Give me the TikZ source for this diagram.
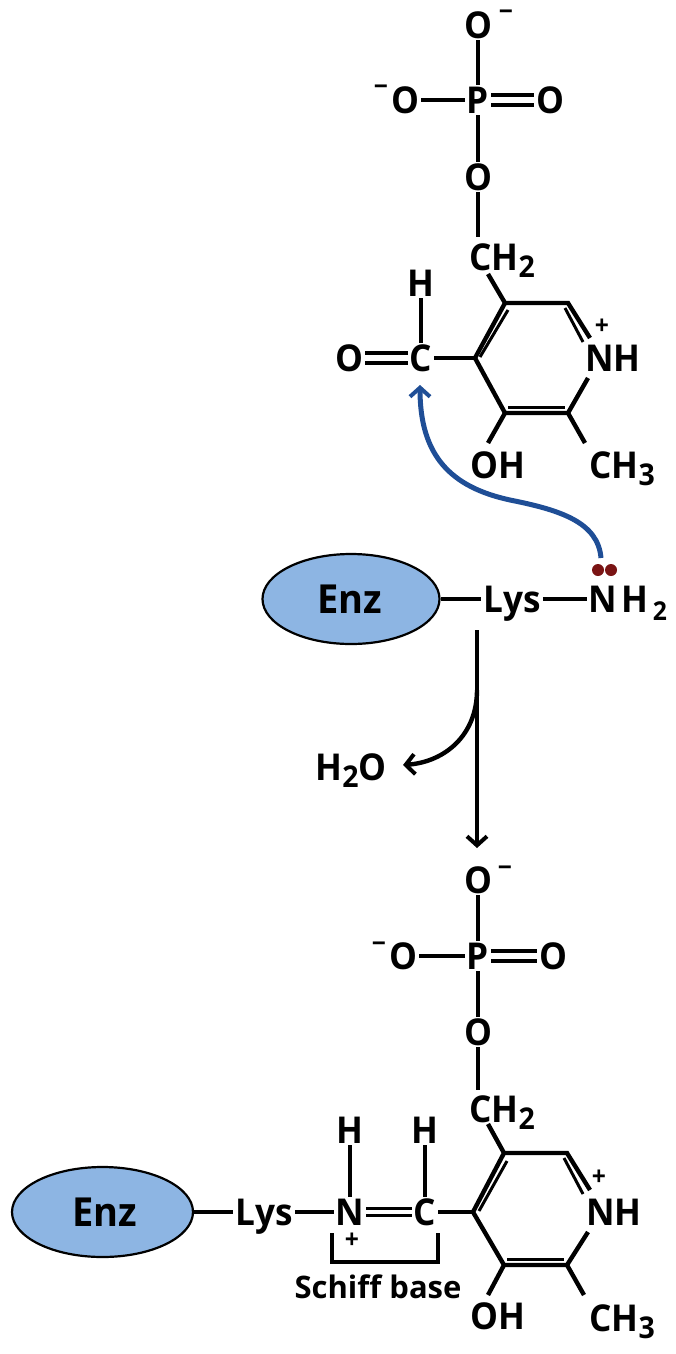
\documentclass[tikz,border=0pt]{standalone}
\usepackage{fontspec}
\setmainfont{Open Sans}[BoldFeatures={FakeStretch=0.95}]
\newfontfamily\tagfont{Open Sans}
\usetikzlibrary{shapes.geometric,positioning,arrows.meta}
\definecolor{enzblue}{HTML}{8DB5E3}
\definecolor{attackblue}{HTML}{1F4E96}
\definecolor{pairred}{HTML}{7A1414}
\newcommand{\lowered}[1]{\raisebox{-7pt}{\fontsize{30}{30}\selectfont #1}}
\tikzset{
	atom/.style={font=\fontsize{37}{37}\selectfont\bfseries, inner sep=2pt, 
		text height=26pt, text depth=0pt},
	enzname/.style={font=\fontsize{40}{40}\selectfont\bfseries, inner sep=2pt},
	small/.style={font=\fontsize{26}{26}\selectfont\bfseries, inner sep=0pt},
	tag/.style={font=\tagfont\fontsize{31}{31}\selectfont\bfseries, inner sep=1pt},
	enzyme/.style={ellipse, draw=black, line width=2.2pt, fill=enzblue, 
		minimum width=177pt, minimum height=90pt, inner sep=0pt},
	bond/.style={line width=4.4pt},
	dbond/.style={line width=3.8pt, double, double distance=6pt},
	inner/.style={line width=3pt},
	pair/.style={circle, fill=pairred, minimum size=12pt, inner sep=0pt},
	rxn/.style={line width=4.4pt, -{Straight Barb[length=9pt,width=20pt,line width=4pt]}}
}
\begin{document}
\begin{tikzpicture}[x=1pt,y=-1pt]
	\useasboundingbox (0,0) rectangle (676,1354);
	
	% aldehyde form
	\node[atom] (o1) at (478,25) {O};
	\node[small] (m1) at (506,15) {−};
	\node[atom] (p1) at (478,100) {P};
	\node[atom] (o2) at (405,100) {O};
	\node[small] (m2) at (381,90) {−};
	\node[atom] (o3) at (550,100) {O};
	\node[atom] (o4) at (478,177) {O};
	\node[atom] (ch2a) at (502,257) {CH\lowered{2}};
	\node[atom] (ha) at (421,283) {H};
	\node[atom] (ca) at (421,358) {C};
	\node[atom] (o5) at (349,358) {O};
	\node[atom] (nha) at (613,358) {NH};
	\node[small] (pa) at (602,327) {+};
	\node[atom] (oha) at (498,465) {OH};
	\node[atom] (ch3a) at (622,465) {CH\lowered{3}};
	\coordinate (c4a) at (475,358);
	\coordinate (c5a) at (505,303);
	\coordinate (c6a) at (568,303);
	\coordinate (c2a) at (568,413);
	\coordinate (c3a) at (505,413);
	\coordinate (n1a) at (590,338);
	\coordinate (n2a) at (588,378);
	\coordinate (c2ae) at (585,443);
	\coordinate (c3ae) at (488,443);
	\coordinate (c5ae) at (488,274);
	\coordinate (o4ae) at (478,237);
	
	\draw[bond] (o1) -- (p1);
	\draw[bond] (o2) -- (p1);
	\draw[dbond] (p1) -- (o3);
	\draw[bond] (p1) -- (o4);
	\draw[bond] (o4) -- (o4ae);
	\draw[bond] (c5ae) -- (c5a) -- (c4a) -- (c3a) -- (c2a) -- (n2a);
	\draw[bond] (c5a) -- (c6a) -- (n1a);
	\draw[bond] (c3a) -- (c3ae);
	\draw[bond] (c2a) -- (c2ae);
	\draw[bond] (ca) -- (c4a);
	\draw[bond] (ca) -- (ha);
	\draw[dbond] (o5) -- (ca);
	\draw[inner] (480,357) -- (508,310);
	\draw[inner] (565,308) -- (583,342);
	\draw[inner] (508,407) -- (565,407);
	
	% enzyme with lysine
	\node[enzyme] (enz1) at (351,599) {};
	\node[enzname] (enzt1) at (350,599) {Enz};
	\node[atom] (lys1) at (512,599) {Lys};
	\node[atom] (n1) at (603,599) {N};
	\node[atom] (h1) at (635,599) {H};
	\node[small] (two1) at (660,611) {2};
	\node[pair] (lp1) at (598,570) {};
	\node[pair] (lp2) at (611,570) {};
	\node[atom] (h2o) at (351,767) {H\lowered{2}O};
	\draw[bond] (enz1) -- (lys1);
	\draw[bond] (lys1) -- (n1);
	
	% nucleophilic attack
	\coordinate (atkstart) at (601,558);
	\coordinate (atkend) at (420,385);
	\coordinate (atkmid) at (510,500);
	\draw[attackblue, rxn, line width=5pt] (atkstart) .. controls (598,522) and (560,510) .. (atkmid)
		.. controls (450,487) and (420,455) .. (atkend);
	
	% reaction arrows
	\coordinate (rxnstart) at (477,630);
	\coordinate (rxnend) at (477,848);
	\coordinate (branch) at (477,690);
	\coordinate (wateroff) at (403,765);
	\draw[rxn] (rxnstart) -- (rxnend);
	\draw[rxn] (branch) .. controls (477,735) and (445,762) .. (wateroff);
	
	% Schiff base form
	\node[atom] (o6) at (478,880) {O};
	\node[small] (m3) at (505,871) {−};
	\node[atom] (p2) at (478,956) {P};
	\node[atom] (o7) at (403,956) {O};
	\node[small] (m4) at (379,947) {−};
	\node[atom] (o8) at (553,956) {O};
	\node[atom] (o9) at (478,1032) {O};
	\node[atom] (ch2b) at (502,1109) {CH\lowered{2}};
	\node[atom] (hb) at (425,1130) {H};
	\node[atom] (hn) at (350,1130) {H};
	\node[atom] (cb) at (425,1212) {C};
	\node[atom] (nb) at (350,1212) {N};
	\node[small] (pn) at (352,1241) {+};
	\node[enzyme, minimum width=181pt] (enz2) at (102.5,1212) {};
	\node[enzname] (enzt2) at (105,1212) {Enz};
	\node[atom] (lys2) at (264,1212) {Lys};
	\node[atom] (nhb) at (614,1212) {NH};
	\node[small] (pb) at (599,1178) {+};
	\node[atom] (ohb) at (498,1316) {OH};
	\node[atom] (ch3b) at (622,1318) {CH\lowered{3}};
	\node[tag] (schiff) at (378,1287) {Schiff base};
	\coordinate (c4b) at (473,1212);
	\coordinate (c5b) at (504,1153);
	\coordinate (c6b) at (567,1153);
	\coordinate (c2b) at (567,1265);
	\coordinate (c3b) at (504,1265);
	\coordinate (n1b) at (590,1190);
	\coordinate (n2b) at (588,1232);
	\coordinate (c2be) at (584,1295);
	\coordinate (c3be) at (488,1295);
	\coordinate (c5be) at (488,1124);
	\coordinate (o9e) at (478,1090);
	\coordinate (brl) at (332,1233);
	\coordinate (brr) at (438,1233);
	
	\draw[bond] (o6) -- (p2);
	\draw[bond] (o7) -- (p2);
	\draw[dbond] (p2) -- (o8);
	\draw[bond] (p2) -- (o9);
	\draw[bond] (o9) -- (o9e);
	\draw[bond] (c5be) -- (c5b) -- (c4b) -- (c3b) -- (c2b) -- (n2b);
	\draw[bond] (c5b) -- (c6b) -- (n1b);
	\draw[bond] (c3b) -- (c3be);
	\draw[bond] (c2b) -- (c2be);
	\draw[bond] (cb) -- (c4b);
	\draw[bond] (cb) -- (hb);
	\draw[bond] (nb) -- (hn);
	\draw[dbond, line width=3.4pt, double distance=4pt] (nb) -- (cb);
	\draw[bond] (enz2) -- (lys2);
	\draw[bond] (lys2) -- (nb);
	\draw[inner] (479,1211) -- (507,1161);
	\draw[inner] (564,1158) -- (583,1194);
	\draw[inner] (507,1259) -- (564,1259);
	\draw[line width=3.4pt] (brl) -- (332,1262) -- (438,1262) -- (brr);
\end{tikzpicture}
\end{document}
